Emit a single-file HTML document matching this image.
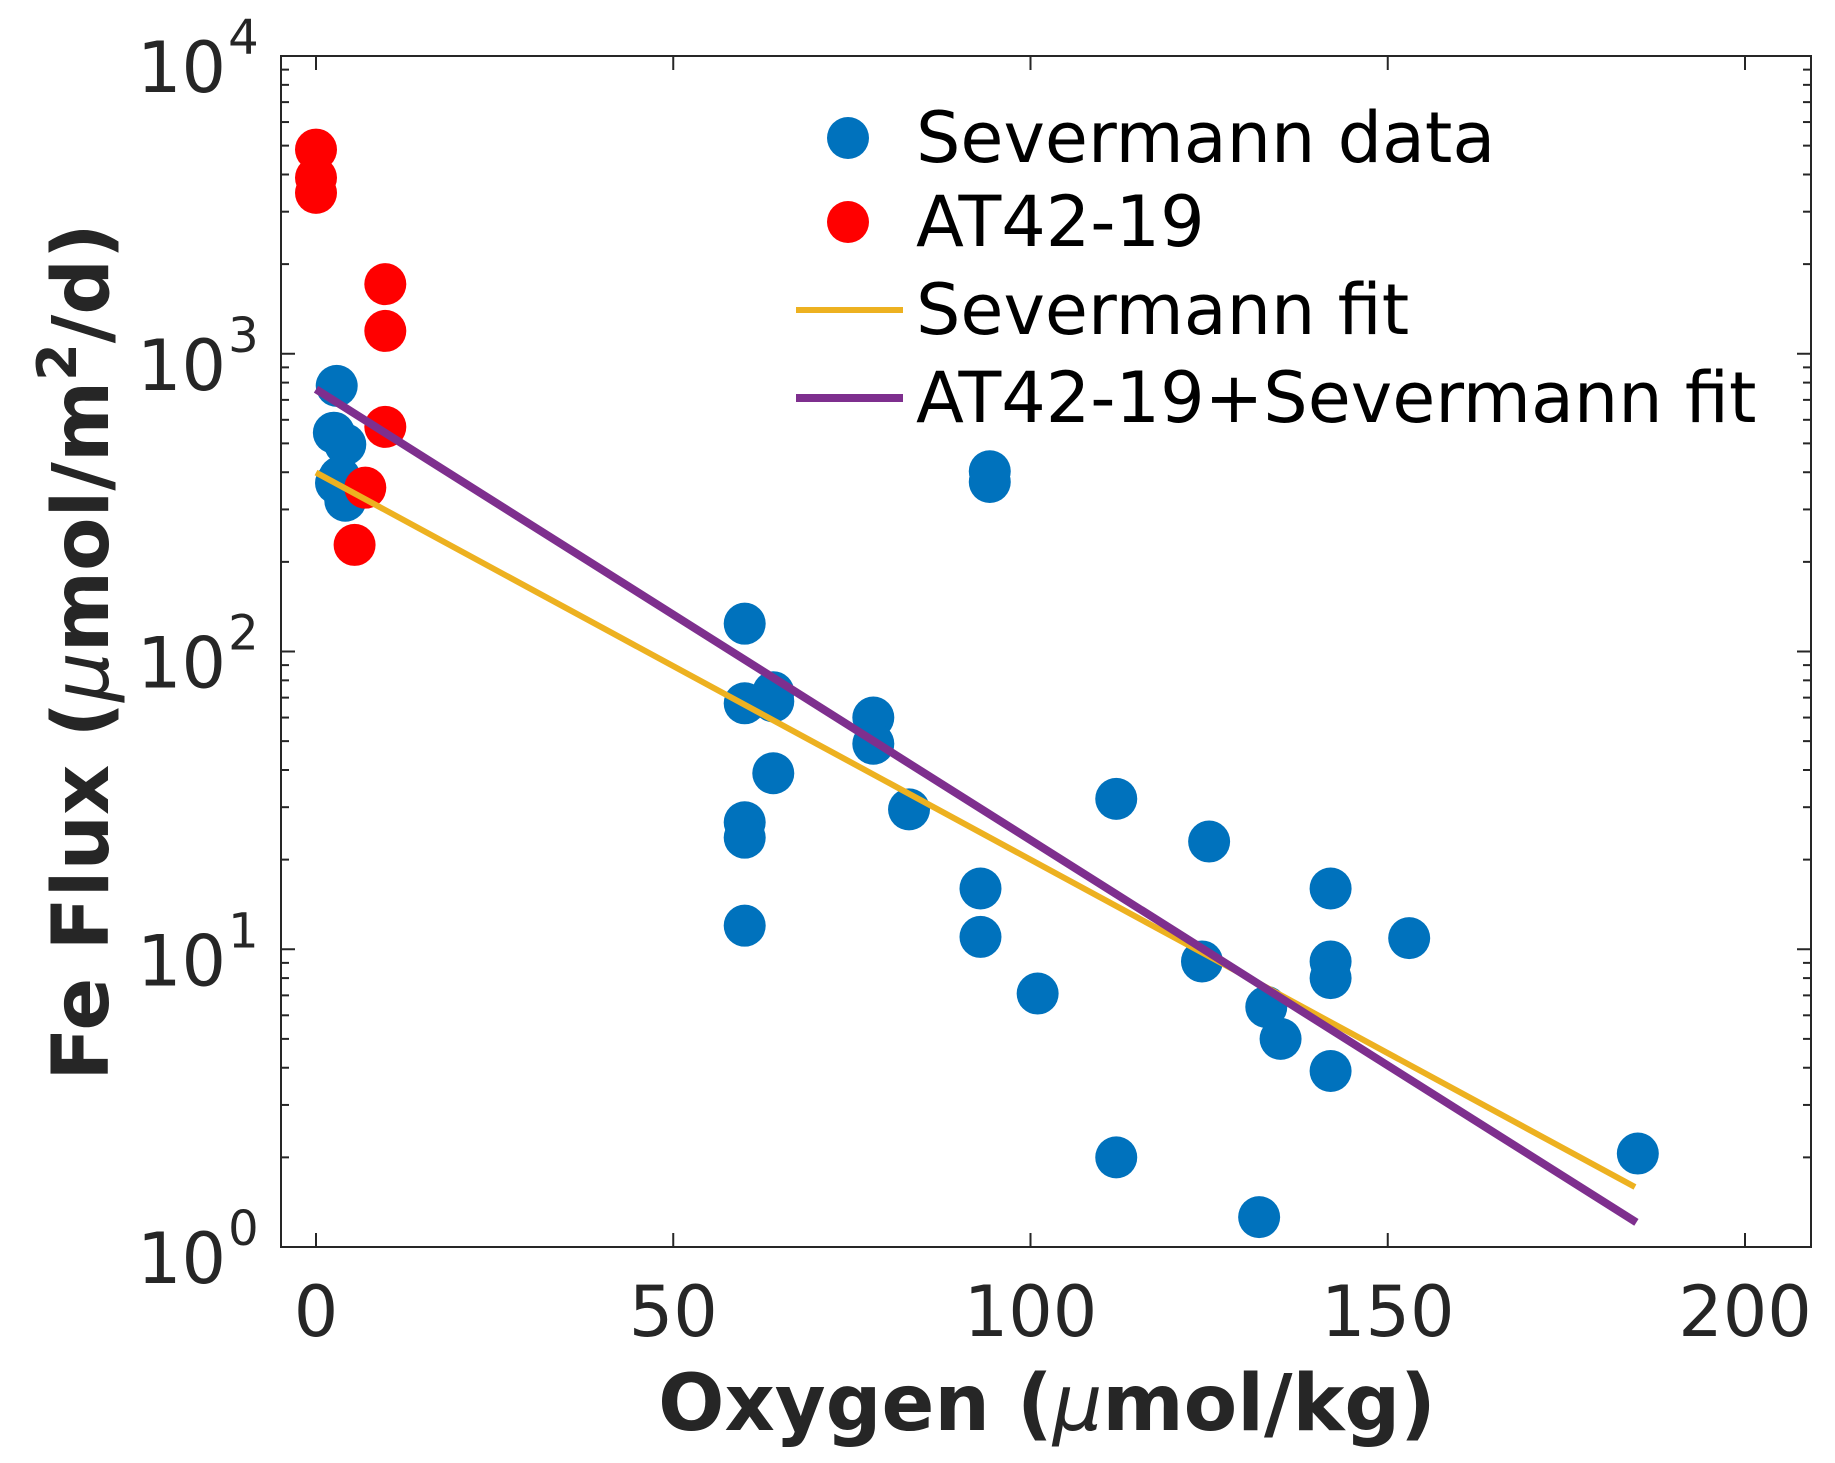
<!DOCTYPE html>
<html><head><meta charset="utf-8"><style>
html,body{margin:0;padding:0;background:#fff}
svg{display:block}
text{font-family:"DejaVu Sans","Liberation Sans",sans-serif;fill:#262626}
</style></head><body>
<svg id="chart" width="1835" height="1463" viewBox="0 0 1835 1463" xmlns="http://www.w3.org/2000/svg">
<rect x="0" y="0" width="1835" height="1463" fill="#fff"/>
<g id="marks"></g>
<rect x="281" y="56" width="1530" height="1191" fill="none" stroke="#262626" stroke-width="2"/>
<g id="axes"></g>
<text x="1047" y="1430" font-size="78" font-weight="bold" text-anchor="middle">Oxygen (<tspan font-style="italic" font-weight="normal">μ</tspan>mol/kg)</text>
<text transform="translate(108,652) rotate(-90)" font-size="78" font-weight="bold" text-anchor="middle">Fe Flux (<tspan font-style="italic" font-weight="normal">μ</tspan>mol/m<tspan dy="-32" font-size="54">2</tspan><tspan dy="32">/d)</tspan></text>
<g id="legend">
<circle cx="848" cy="138" r="21" fill="#0072BD"/>
<text x="916" y="162" font-size="70" style="fill:#000">Severmann data</text>
<circle cx="848" cy="222" r="21" fill="#FF0000"/>
<text x="916" y="246" font-size="70" style="fill:#000">AT42-19</text>
<line x1="796" y1="310" x2="903" y2="310" stroke="#EDB120" stroke-width="6"/>
<text x="916" y="334" font-size="70" style="fill:#000">Severmann fit</text>
<line x1="796" y1="398" x2="903" y2="398" stroke="#7E2F8E" stroke-width="8"/>
<text x="916" y="422" font-size="70" style="fill:#000">AT42-19+Severmann fit</text>
</g>
</svg>
<script>
const sevX=[2.9,2.5,4.1,3.3,2.8,4.1,60,60,64,64,64,60,60,60,78,78,83,93,93,94.3,94.3,101,112,112,124,125,133,135,132,142,142,142,142,153,185];
const sevY=[780,543,496,385,368,321,124,67,68,73,39,26.7,23.7,12,60,49,29.5,16,11,403,371,7.1,32,2.0,9.1,23,6.4,5.0,1.26,16,9.1,8.0,3.9,10.9,2.06];
const atX=[0,0,0,9.7,9.7,9.7,6.9,5.4];
const atY=[4850,3900,3470,1713,1193,568,355,228];
const sevFitX=[0,184.6];
const sevFitY=[399,1.59];
const combFitX=[0,184.8];
const combFitY=[760,1.21];
const xTicks=[0,50,100,150,200];
const yTickExp=[0,1,2,3,4];

const NS="http://www.w3.org/2000/svg";
const X0=316,X1=1745,YT=56,YB=1247;
function sx(v){return X0+(X1-X0)*v/200;}
function sy(v){return YB-(YB-YT)*Math.log10(v)/4;}
function mk(tag,attrs,parent){const e=document.createElementNS(NS,tag);for(const k in attrs)e.setAttribute(k,attrs[k]);parent.appendChild(e);return e;}
const marks=document.getElementById('marks'),axes=document.getElementById('axes');

function fit(xs,ys,color,w,name){
  const l=mk('line',{x1:sx(xs[0]),y1:sy(ys[0]),x2:sx(xs[1]),y2:sy(ys[1]),stroke:color,'stroke-width':w},marks);
  
  
}
sevX.forEach((x,i)=>{const c=mk('circle',{cx:sx(x),cy:sy(sevY[i]),r:21,fill:'#0072BD'},marks);
  
  });
atX.forEach((x,i)=>{const c=mk('circle',{cx:sx(x),cy:sy(atY[i]),r:21,fill:'#FF0000'},marks);
  
  });
fit(sevFitX,sevFitY,'#EDB120',6,'severmann-fit-line');
fit(combFitX,combFitY,'#7E2F8E',8,'combined-fit-line');

xTicks.forEach(t=>{const x=sx(t);
  mk('line',{x1:x,y1:YB,x2:x,y2:YB-14,stroke:'#262626','stroke-width':2},axes);
  mk('line',{x1:x,y1:YT,x2:x,y2:YT+14,stroke:'#262626','stroke-width':2},axes);
  const tx=mk('text',{x:x,y:1336,'font-size':70,'text-anchor':'middle'},axes);tx.textContent=t;
  
  });
yTickExp.forEach(e=>{const y=sy(Math.pow(10,e));
  mk('line',{x1:281,y1:y,x2:295,y2:y,stroke:'#262626','stroke-width':2},axes);
  mk('line',{x1:1811,y1:y,x2:1797,y2:y,stroke:'#262626','stroke-width':2},axes);
  const tx=mk('text',{x:137,y:y+36,'font-size':70},axes);
  
  
  tx.appendChild(document.createTextNode('10'));
  const s=mk('tspan',{dx:2,dy:-38,'font-size':48},tx);s.textContent=e;
  if(e<4){for(let m=2;m<=9;m++){const yy=sy(m*Math.pow(10,e));
    mk('line',{x1:281,y1:yy,x2:289,y2:yy,stroke:'#262626','stroke-width':2},axes);
    mk('line',{x1:1811,y1:yy,x2:1803,y2:yy,stroke:'#262626','stroke-width':2},axes);}}});
</script>
</body></html>
